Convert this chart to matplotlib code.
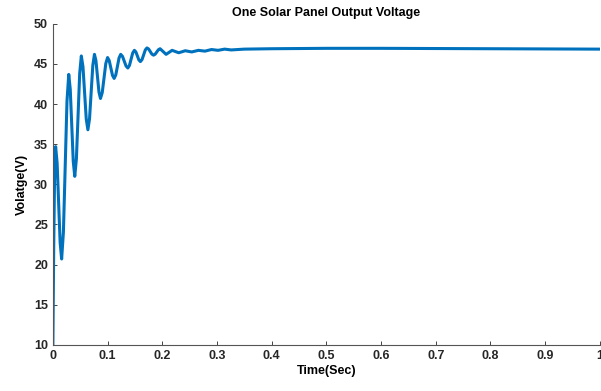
import matplotlib.pyplot as plt
from matplotlib.ticker import FormatStrFormatter

plt.rcParams['font.family'] = ['Liberation Sans', 'DejaVu Sans']
plt.rcParams['font.weight'] = 'bold'

# time (s) and voltage (V)
t = [0, 0.0015, 0.003, 0.004, 0.005,
     0.00775, 0.0105, 0.01325, 0.016,
     0.01925, 0.0225, 0.02575, 0.029,
     0.03175, 0.0345, 0.03725, 0.040,
     0.043, 0.046, 0.049, 0.052,
     0.055, 0.058, 0.061, 0.064,
     0.067, 0.070, 0.073, 0.076,
     0.07875, 0.0815, 0.08425, 0.087,
     0.09025, 0.0935, 0.09675, 0.100,
     0.103, 0.106, 0.109, 0.112,
     0.115, 0.118, 0.121, 0.124,
     0.12725, 0.1305, 0.13375, 0.137,
     0.140, 0.143, 0.146, 0.149,
     0.15175, 0.1545, 0.15725, 0.160,
     0.163, 0.166, 0.169, 0.172,
     0.175, 0.178, 0.181, 0.184,
     0.187, 0.190, 0.193, 0.196,
     0.2015, 0.207, 0.2125, 0.218,
     0.224, 0.230, 0.236, 0.242,
     0.248, 0.254, 0.266, 0.278,
     0.290, 0.302, 0.314, 0.326,
     0.35, 0.4, 0.5, 0.6, 0.8, 1.0]
v = [10, 22, 30.5, 33.5, 34.7,
     32.66, 27.7, 22.74, 20.7,
     24.06, 32.2, 40.34, 43.7,
     41.85, 37.35, 32.85, 31.0,
     33.19, 38.5, 43.81, 46.0,
     44.66, 41.4, 38.14, 36.8,
     38.17, 41.5, 44.83, 46.2,
     45.4, 43.45, 41.5, 40.7,
     41.44, 43.25, 45.06, 45.8,
     45.42, 44.5, 43.58, 43.2,
     43.64, 44.7, 45.76, 46.2,
     45.95, 45.35, 44.75, 44.5,
     44.82, 45.6, 46.38, 46.7,
     46.5, 46.0, 45.5, 45.3,
     45.55, 46.15, 46.75, 47.0,
     46.87, 46.55, 46.23, 46.1,
     46.22, 46.5, 46.78, 46.9,
     46.55, 46.2, 46.45, 46.7,
     46.55, 46.4, 46.52, 46.65,
     46.57, 46.5, 46.7, 46.6,
     46.8, 46.7, 46.85, 46.75,
     46.85, 46.9, 46.95, 46.95, 46.9, 46.85]

fig = plt.figure(figsize=(6.01, 3.91), dpi=100)
ax = fig.add_axes([0.088, 0.118, 0.91, 0.821])
ax.plot(t, v, color='#0072BD', lw=2.2)

ax.set_xlim(0, 1)
ax.set_ylim(10, 50)
ax.set_xticks([0, 0.1, 0.2, 0.3, 0.4, 0.5, 0.6, 0.7, 0.8, 0.9, 1])
ax.set_yticks(range(10, 51, 5))
ax.xaxis.set_major_formatter(FormatStrFormatter('%g'))
ax.tick_params(direction='in', length=3, width=0.6, colors='#262626', labelsize=9)
for s in ['top', 'right']:
    ax.spines[s].set_visible(False)
for s in ['left', 'bottom']:
    ax.spines[s].set_color('#555555')
    ax.spines[s].set_linewidth(0.8)

ax.set_title('One Solar Panel Output Voltage', fontsize=9, fontweight='bold', pad=6)
ax.set_xlabel('Time(Sec)', fontsize=9, fontweight='bold', labelpad=2)
ax.set_ylabel('Volatge(V)', fontsize=9, fontweight='bold', labelpad=4)

fig.savefig('out.png', dpi=100)
